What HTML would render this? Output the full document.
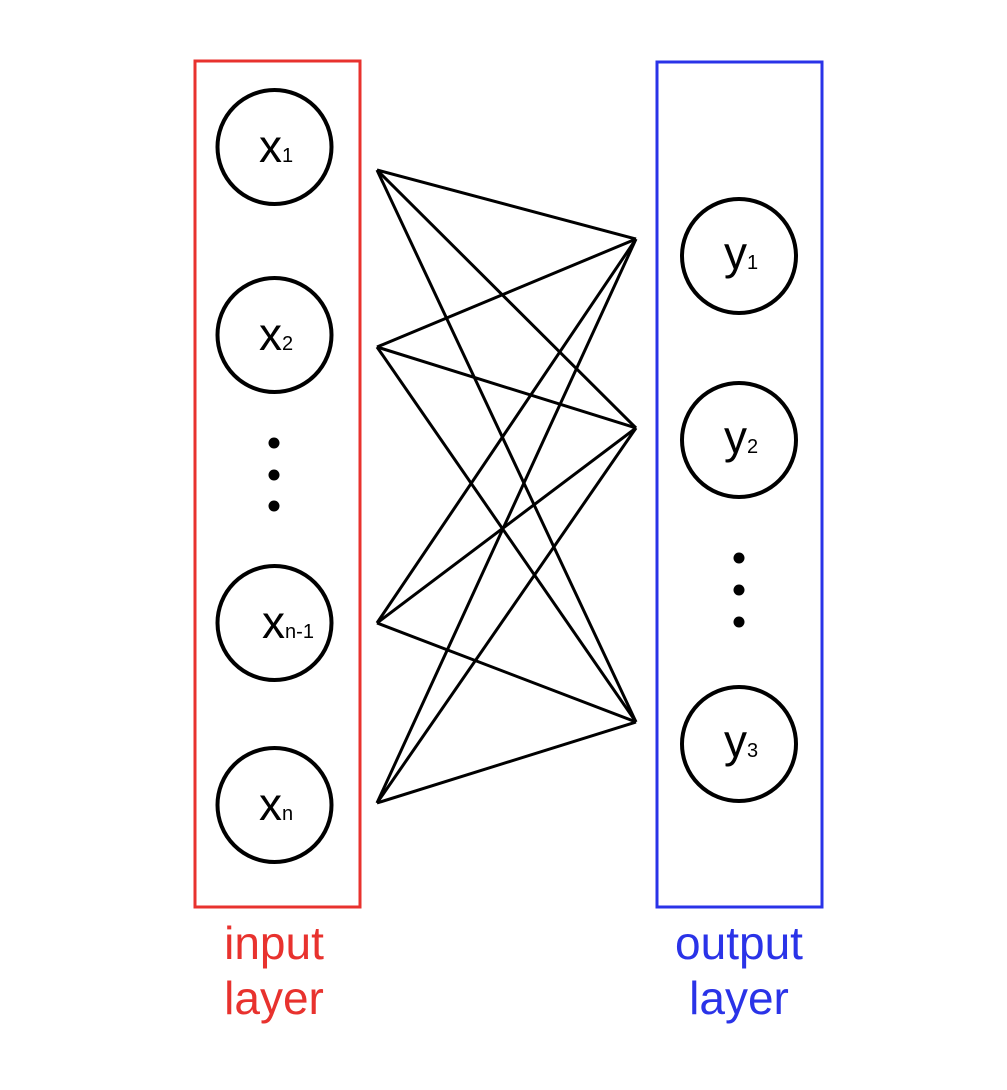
<!DOCTYPE html>
<html><head><style>html,body{margin:0;padding:0;background:#fff}</style></head>
<body>
<svg width="1007" height="1085" viewBox="0 0 1007 1085" xmlns="http://www.w3.org/2000/svg" font-family="Liberation Sans, sans-serif">
<rect x="195" y="61" width="165" height="846" fill="none" stroke="#e8322e" stroke-width="3"/>
<rect x="657" y="62" width="165" height="845" fill="none" stroke="#2a33e8" stroke-width="3"/>
<g fill="none" stroke="#000" stroke-width="4">
<circle cx="274.5" cy="147" r="57"/>
<circle cx="274.5" cy="335" r="57"/>
<circle cx="274.5" cy="623" r="57"/>
<circle cx="274.5" cy="805" r="57"/>
<circle cx="739" cy="256" r="57"/>
<circle cx="739" cy="440" r="57"/>
<circle cx="739" cy="744" r="57"/>
</g>
<g stroke="#000" stroke-width="3">
<line x1="377" y1="170" x2="636" y2="239"/><line x1="377" y1="170" x2="636" y2="428"/><line x1="377" y1="170" x2="636" y2="722"/>
<line x1="377" y1="347" x2="636" y2="239"/><line x1="377" y1="347" x2="636" y2="428"/><line x1="377" y1="347" x2="636" y2="722"/>
<line x1="377" y1="623" x2="636" y2="239"/><line x1="377" y1="623" x2="636" y2="428"/><line x1="377" y1="623" x2="636" y2="722"/>
<line x1="377" y1="803" x2="636" y2="239"/><line x1="377" y1="803" x2="636" y2="428"/><line x1="377" y1="803" x2="636" y2="722"/>
</g>
<g fill="#000">
<circle cx="274" cy="443" r="5.5"/><circle cx="274" cy="475" r="5.5"/><circle cx="274" cy="506" r="5.5"/>
<circle cx="739" cy="558" r="5.5"/><circle cx="739" cy="590" r="5.5"/><circle cx="739" cy="622" r="5.5"/>
</g>
<g fill="#000" font-size="46" text-anchor="middle">
<text x="276" y="162">x<tspan font-size="20">1</tspan></text>
<text x="276" y="350">x<tspan font-size="20">2</tspan></text>
<text x="288" y="638">x<tspan font-size="20">n-1</tspan></text>
<text x="276" y="820">x<tspan font-size="20">n</tspan></text>
<text x="741" y="269">y<tspan font-size="20">1</tspan></text>
<text x="741" y="453">y<tspan font-size="20">2</tspan></text>
<text x="741" y="757">y<tspan font-size="20">3</tspan></text>
</g>
<g font-size="46" text-anchor="middle">
<text x="274" y="959" fill="#e8322e">input</text>
<text x="274" y="1014" fill="#e8322e">layer</text>
<text x="739" y="959" fill="#2a33e8">output</text>
<text x="739" y="1014" fill="#2a33e8">layer</text>
</g>
</svg>
</body></html>
